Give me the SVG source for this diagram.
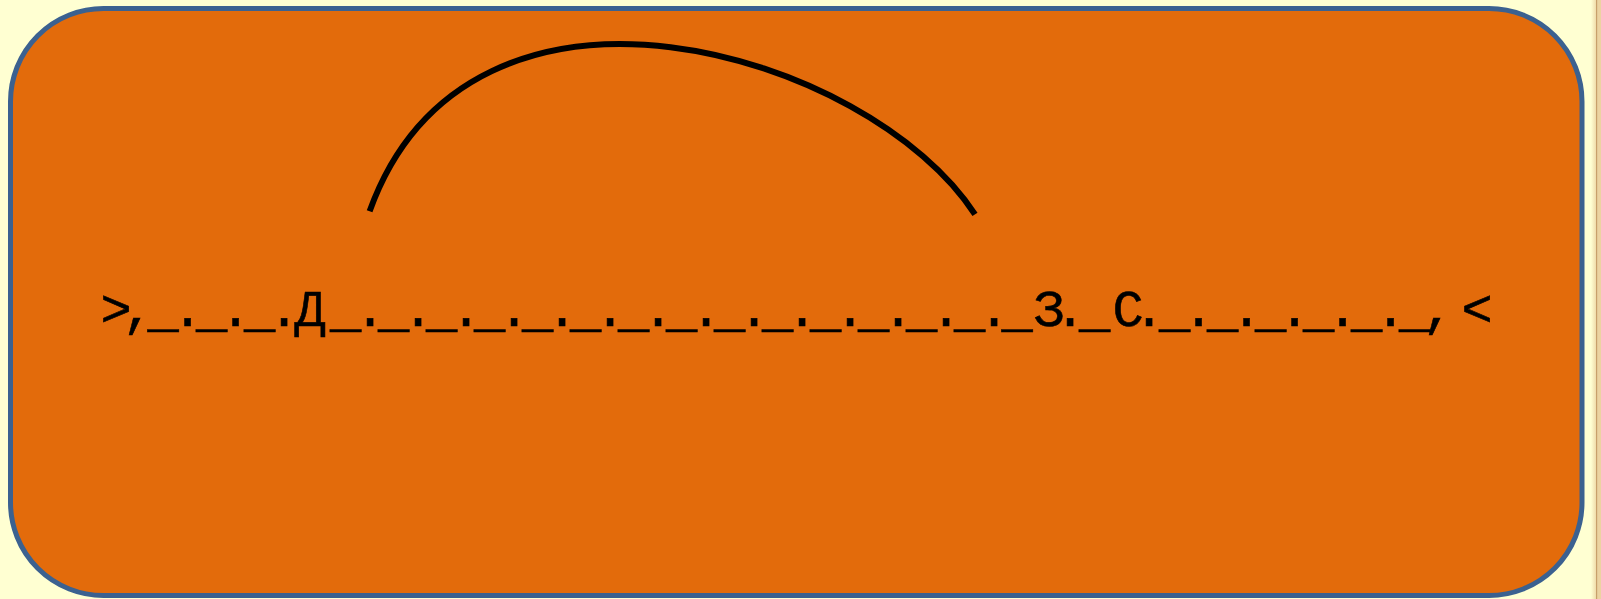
<svg xmlns="http://www.w3.org/2000/svg" width="1601" height="599" viewBox="0 0 1601 599">
<defs>
<style>
.bg{fill:#ffffd2}
.panel{fill:#e36b0b;stroke:#3b6190;stroke-width:5}
.lbl{font-family:"Liberation Mono","DejaVu Sans Mono",monospace;font-size:52px;fill:#000;stroke:#000;stroke-width:0.6}
.arc{fill:none;stroke:#000;stroke-width:6;stroke-linecap:butt}
</style>
<linearGradient id="edge" x1="0" y1="0" x2="1" y2="0">
<stop offset="0" stop-color="#ffffd2"/>
<stop offset="1" stop-color="#f0dcaa"/>
</linearGradient>
</defs>
<rect class="bg" x="0" y="0" width="1601" height="599"/>
<rect x="1591" y="0" width="5" height="599" fill="url(#edge)"/>
<rect x="1596" y="0" width="1.6" height="599" fill="#c8a06a"/>
<rect x="1597.6" y="0" width="3.4" height="599" fill="#ecd3a0"/>
<g id="panel">
<rect class="panel" x="10.5" y="8.5" width="1571.5" height="587" rx="93" ry="93"/>
</g>
<g id="label">
<text class="lbl" y="326" x="100.4 122.4 147.4 171.9 195.9 219.9 243.9 268.4 294.4 329.9 354.4 377.9 402.4 425.9 450.4 473.9 498.4 521.9 546.4 569.9 594.4 617.9 642.4 665.9 690.4 713.9 738.4 761.9 786.4 809.9 834.4 857.9 882.4 905.9 930.4 953.9 978.4 1001.4 1033.4 1054.4 1079.1 1112.4 1133.4 1158.9 1182.9 1206.9 1230.9 1255.0 1279.0 1303.0 1327.0 1351.1 1375.1 1398.9 1422.4 1446 1461.4">&gt;,_._._.Д_._._._._._._._._._._._._._._З._С._._._._._._, &lt;</text>
</g>
<g id="connectors">
<path class="arc" d="M 369.6 211.3 C 470 -68 870 52 975 214.4"/>
</g>
</svg>
